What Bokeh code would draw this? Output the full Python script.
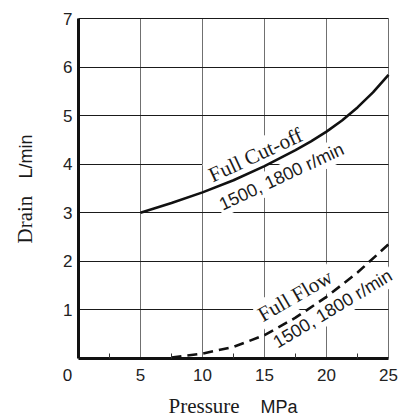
import math
from bokeh.plotting import figure
from bokeh.models import Range1d, FixedTicker, Label
from bokeh.embed import file_html
from bokeh.resources import INLINE

# ---- data ----
pressure_cutoff = [5, 7.5, 10, 12.5, 15, 17.5, 18.75, 20, 21.25, 22.5, 23.75, 25]
drain_cutoff = [3.0, 3.2, 3.42, 3.67, 3.96, 4.29, 4.47, 4.67, 4.9, 5.17, 5.48, 5.84]

pressure_flow = [7.5, 10, 12.5, 15, 17.5, 20, 22.5, 25]
drain_flow = [0.02, 0.1, 0.24, 0.48, 0.84, 1.27, 1.77, 2.35]

x_ticks = [5, 10, 15, 20, 25]
x_minor = [2.5, 7.5, 12.5, 17.5, 22.5]
y_ticks = [1, 2, 3, 4, 5, 6, 7]

SERIF = "Liberation Serif"
SANS = "Liberation Sans"

# frame spans the whole canvas; axes are pinned at x=0 / y=0
PX_X = 12.4      # px per MPa
PX_Y = 340 / 7   # px per L/min
X0, Y0 = 78, 358  # pixel position of the origin
W, H = 400, 417

p = figure(width=W, height=H, output_backend="svg", toolbar_location=None,
           x_range=Range1d(-X0 / PX_X, (W - X0) / PX_X),
           y_range=Range1d(-(H - Y0) / PX_Y, Y0 / PX_Y),
           min_border=0)
p.background_fill_color = "white"
p.border_fill_color = "white"
p.outline_line_color = None

# axes
xa = p.xaxis[0]
xa.fixed_location = 0
xa.bounds = (0, 25)
xa.ticker = FixedTicker(ticks=x_ticks, minor_ticks=x_minor)
xa.axis_line_width = 3
xa.axis_line_color = "#111111"
xa.major_tick_in = 0
xa.major_tick_out = 0
xa.minor_tick_in = 5
xa.minor_tick_out = 0
xa.minor_tick_line_color = "#333333"
xa.major_label_text_font = SANS
xa.major_label_text_font_size = "17px"
xa.major_label_text_color = "#222222"
xa.major_label_standoff = 10

ya = p.yaxis[0]
ya.fixed_location = 0
ya.bounds = (0, 7)
ya.ticker = FixedTicker(ticks=y_ticks, minor_ticks=[])
ya.axis_line_width = 3
ya.axis_line_color = "#111111"
ya.major_tick_in = 0
ya.major_tick_out = 0
ya.minor_tick_in = 0
ya.minor_tick_out = 0
ya.major_label_text_font = SANS
ya.major_label_text_font_size = "17px"
ya.major_label_text_color = "#222222"
ya.major_label_standoff = 6

# grids (limited to the plotting box, incl. top and right border lines)
p.xgrid.ticker = FixedTicker(ticks=[5, 10, 15, 20, 25])
p.xgrid.bounds = (0, 25)
p.xgrid.cross_bounds = (0, 7)
p.xgrid.grid_line_color = "#707070"
p.xgrid.grid_line_width = 1
p.ygrid.ticker = FixedTicker(ticks=[1, 2, 3, 4, 5, 6, 7])
p.ygrid.bounds = (0, 7)
p.ygrid.cross_bounds = (0, 25)
p.ygrid.grid_line_color = "#1a1a1a"
p.ygrid.grid_line_width = 1


def lab(txt, px, py, ang, font, size_px, bg=True, align="left", baseline="alphabetic", level="underlay"):
    # px, py: wanted baseline-start position in page pixels; compensate the
    # renderer's baseline offset by nudging the anchor "up" along the text's normal
    x = (px - X0) / PX_X
    y = (Y0 - py) / PX_Y
    if baseline == "alphabetic":
        s = 0.27 * size_px
        t = math.radians(ang)
        x += -s * math.sin(t) / PX_X
        y += s * math.cos(t) / PX_Y
    kw = dict(x=x, y=y, text=txt, angle=ang, angle_units="deg",
              text_font=font, text_font_size=f"{size_px}px", text_color="#1a1a1a",
              text_align=align, text_baseline=baseline, level=level)
    if bg:
        kw.update(background_fill_color="white", padding=2)
    l = Label(**kw)
    p.add_layout(l)
    return l


# curve labels (white box hides grid lines, drawn under curves)
lab("Full Cut-off", 210, 181.7, 25, SERIF, 21)
lab("1500, 1800 r/min", 220, 210, 25, SANS, 18)
lab("Full Flow", 260, 321.7, 30, SERIF, 21)
lab("1500, 1800 r/min", 275, 348.3, 31, SANS, 18)

# curves
p.line(pressure_cutoff, drain_cutoff, line_color="#111111", line_width=2.6)
p.line(pressure_flow, drain_flow, line_color="#111111", line_width=2.6, line_dash="10 6")

# corner "0" and axis titles
lab("0", 67, 368, 0, SANS, 17, bg=False, align="center", baseline="top", level="annotation")
lab("Pressure", 168, 411.5, 0, SERIF, 21, bg=False, level="annotation")
lab("MPa", 260, 411.5, 0, SANS, 18, bg=False, level="annotation")
lab("Drain", 30, 243, 90, SERIF, 21, bg=False, level="annotation")
lab("L/min", 30, 178, 90, SANS, 18, bg=False, level="annotation")

open("out.html", "w").write(file_html(p, INLINE))
